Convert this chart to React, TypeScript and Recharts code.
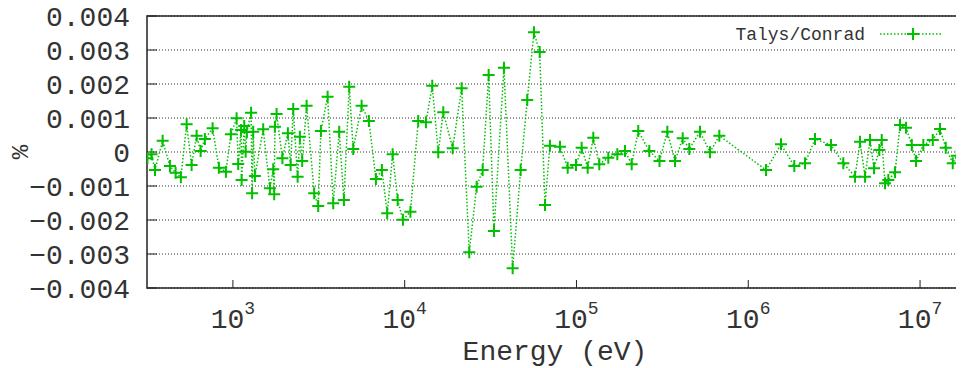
import { LineChart, Line, XAxis, YAxis, CartesianGrid, ReferenceArea, Legend } from "recharts";

// energies in eV
const energy = [
  318, 336, 352, 390, 430, 464, 498, 538, 575, 615,
  649, 687, 762, 829, 911, 973, 1051, 1074, 1116, 1124,
  1164, 1186, 1206, 1276, 1294, 1313, 1343, 1501, 1642, 1717,
  1740, 1756, 1796, 1942, 2090, 2168, 2245, 2381, 2455, 2532,
  2686, 2974, 3138, 3253, 3559, 3837, 4158, 4430, 4755, 5017,
  5614, 6191, 6801, 7370, 7912, 8510, 9100, 9768, 10800, 11990,
  13300, 14470, 15680, 16770, 19020, 21460, 23760, 26230, 28440, 30820,
  33090, 37840, 42510, 47320, 51700, 56570, 61070, 65570, 70090, 80160,
  88880, 99330, 107200, 116200, 125300, 135800, 153200, 172900, 191600, 209600,
  228900, 265400, 304300, 337900, 374600, 415300, 453800, 523700, 598800, 678500,
  1269000, 1551000, 1854000, 2140000, 2447000, 3033000, 3576000, 4183000, 4474000, 4784000,
  5116000, 5397000, 5794000, 5984000, 6254000, 6537000, 7152000, 7647000, 8288000, 8949000,
  9478000, 10450000, 11860000, 13070000, 14110000, 15500000, 16360000, 17730000,
];

// Talys/Conrad relative difference (%)
const talysConrad = [
  -0.185e-3, -0.068e-3, -0.529e-3, 0.332e-3, -0.412e-3, -0.609e-3, -0.744e-3, 0.815e-3, -0.382e-3, 0.479e-3,
  0.029e-3, 0.382e-3, 0.697e-3, -0.462e-3, -0.579e-3, 0.521e-3, 0.991e-3, -0.353e-3, 0.647e-3, -0.824e-3,
  0.765e-3, 0.009e-3, 0.588e-3, 1.156e-3, -1.215e-3, 0.597e-3, -0.706e-3, 0.668e-3, -1.068e-3, -0.509e-3,
  -1.244e-3, 0.744e-3, 1.118e-3, -0.185e-3, 0.55e-3, -0.382e-3, 1.265e-3, -0.726e-3, 0.45e-3, -0.265e-3,
  1.362e-3, -1.215e-3, -1.588e-3, 0.618e-3, 1.626e-3, -1.509e-3, 0.597e-3, -1.412e-3, 1.921e-3, 0.088e-3,
  1.362e-3, 0.912e-3, -0.794e-3, -0.529e-3, -1.803e-3, -0.068e-3, -1.412e-3, -1.994e-3, -1.756e-3, 0.912e-3,
  0.874e-3, 1.95e-3, -0.009e-3, 1.168e-3, 0.109e-3, 1.874e-3, -2.95e-3, -1.021e-3, -0.529e-3, 2.265e-3,
  -2.324e-3, 2.479e-3, -3.421e-3, -0.529e-3, 1.529e-3, 3.521e-3, 2.941e-3, -1.559e-3, 0.185e-3, 0.156e-3,
  -0.462e-3, -0.382e-3, 0.126e-3, -0.462e-3, 0.421e-3, -0.362e-3, -0.168e-3, -0.068e-3, 0.029e-3, -0.362e-3,
  0.618e-3, 0.029e-3, -0.265e-3, 0.597e-3, -0.265e-3, 0.403e-3, 0.088e-3, 0.597e-3, -0.009e-3, 0.479e-3,
  -0.529e-3, 0.226e-3, -0.412e-3, -0.332e-3, 0.382e-3, 0.206e-3, -0.332e-3, -0.726e-3, 0.303e-3, -0.726e-3,
  0.353e-3, -0.479e-3, 0.059e-3, 0.353e-3, -0.921e-3, -0.824e-3, -0.597e-3, 0.794e-3, 0.715e-3, 0.206e-3,
  -0.265e-3, 0.206e-3, 0.353e-3, 0.676e-3, 0.126e-3, -0.332e-3, -0.109e-3, -0.697e-3,
];

const xTicks = [1e3, 1e4, 1e5, 1e6, 1e7];
const xExponents = ["3", "4", "5", "6", "7"];
const yTicks = [-0.004, -0.003, -0.002, -0.001, 0, 0.001, 0.002, 0.003, 0.004];

const X_MIN = 316.23;
const X_MAX = 17783000;
const GREEN = "#00c000";
const TEXT = "#333";
const FONT = "'Liberation Mono', 'DejaVu Sans Mono', monospace";

const data = energy.map((e, i) => ({ e, v: talysConrad[i] }));

const fmtY = (v: number) => {
  if (v === 0) return "0";
  return (v < 0 ? "\u2212" : "") + Math.abs(v).toFixed(3);
};

function XTick(props: any) {
  const { x, y, payload } = props;
  const idx = xTicks.indexOf(payload.value);
  return (
    <text x={x} y={y + 40} textAnchor="middle" fontFamily={FONT} fontSize={28} fill={TEXT}>
      <tspan>10</tspan>
      <tspan dy={-14} fontSize={18}>{xExponents[idx]}</tspan>
    </text>
  );
}

function Cross(props: any) {
  const { cx, cy, index } = props;
  if (cx == null || cy == null) return null;
  return (
    <path
      key={`p-${index}`}
      d={`M${cx - 6},${cy}h12M${cx},${cy - 6}v12`}
      stroke={GREEN}
      strokeWidth={2}
      fill="none"
    />
  );
}

function LegendBox() {
  return (
    <svg width={240} height={26} style={{ display: "block" }}>
      <text x={145} y={18} textAnchor="end" fontFamily={FONT} fontSize={18} fill={TEXT}>
        Talys/Conrad
      </text>
      <line x1={160} y1={12} x2={223} y2={12} stroke={GREEN} strokeWidth={1.5} strokeDasharray="1.5 2" />
      <path d="M187,12h12M193,6v12" stroke={GREEN} strokeWidth={2} />
    </svg>
  );
}

export default function App() {
  return (
    <LineChart
      width={956}
      height={360}
      data={data}
      margin={{ top: 8, right: 1, bottom: 0, left: 0 }}
      style={{ overflow: "visible" }}
    >
      <CartesianGrid vertical={false} stroke="#333" strokeDasharray="1 2" horizontalValues={yTicks} />
      <XAxis
        dataKey="e"
        type="number"
        scale="log"
        domain={[X_MIN, X_MAX]}
        allowDataOverflow
        ticks={xTicks}
        interval={0}
        height={80}
        axisLine={false}
        tickSize={-8}
        tickMargin={8}
        tickLine={{ stroke: "#222", strokeWidth: 1 }}
        tick={<XTick />}
        label={(p: any) => {
          const vb = p.viewBox;
          return (
            <text
              x={vb.x + vb.width / 2}
              y={vb.y + 72}
              textAnchor="middle"
              fontFamily={FONT}
              fontSize={28}
              fill={TEXT}
            >
              Energy (eV)
            </text>
          );
        }}
      />
      <YAxis
        type="number"
        domain={[-0.004, 0.004]}
        ticks={yTicks}
        interval={0}
        width={139}
        axisLine={false}
        tickSize={-10}
        tickMargin={27}
        tickLine={{ stroke: "#222", strokeWidth: 1 }}
        tickFormatter={fmtY}
        tick={{ fontFamily: FONT, fontSize: 28, fill: TEXT }}
        label={(p: any) => {
          const vb = p.viewBox;
          const cx = vb.x + 13;
          const cy = vb.y + vb.height / 2;
          return (
            <text
              x={cx}
              y={cy}
              transform={`rotate(-90 ${cx} ${cy})`}
              textAnchor="middle"
              dominantBaseline="central"
              fontFamily={FONT}
              fontSize={24}
              fill={TEXT}
            >
              %
            </text>
          );
        }}
      />
      <ReferenceArea
        x1={X_MIN}
        x2={X_MAX}
        y1={-0.004}
        y2={0.004}
        fill="none"
        stroke="#222"
        strokeWidth={1.5}
        ifOverflow="visible"
      />
      <Legend
        content={<LegendBox />}
        layout="horizontal"
        align="center"
        verticalAlign="middle"
        wrapperStyle={{ position: "absolute", top: 14, left: 712, width: 240 }}
      />
      <Line
        type="linear"
        dataKey="v"
        stroke={GREEN}
        strokeWidth={1.5}
        strokeDasharray="1.5 2"
        dot={<Cross />}
        activeDot={false}
        isAnimationActive={false}
        legendType="none"
      />
    </LineChart>
  );
}
